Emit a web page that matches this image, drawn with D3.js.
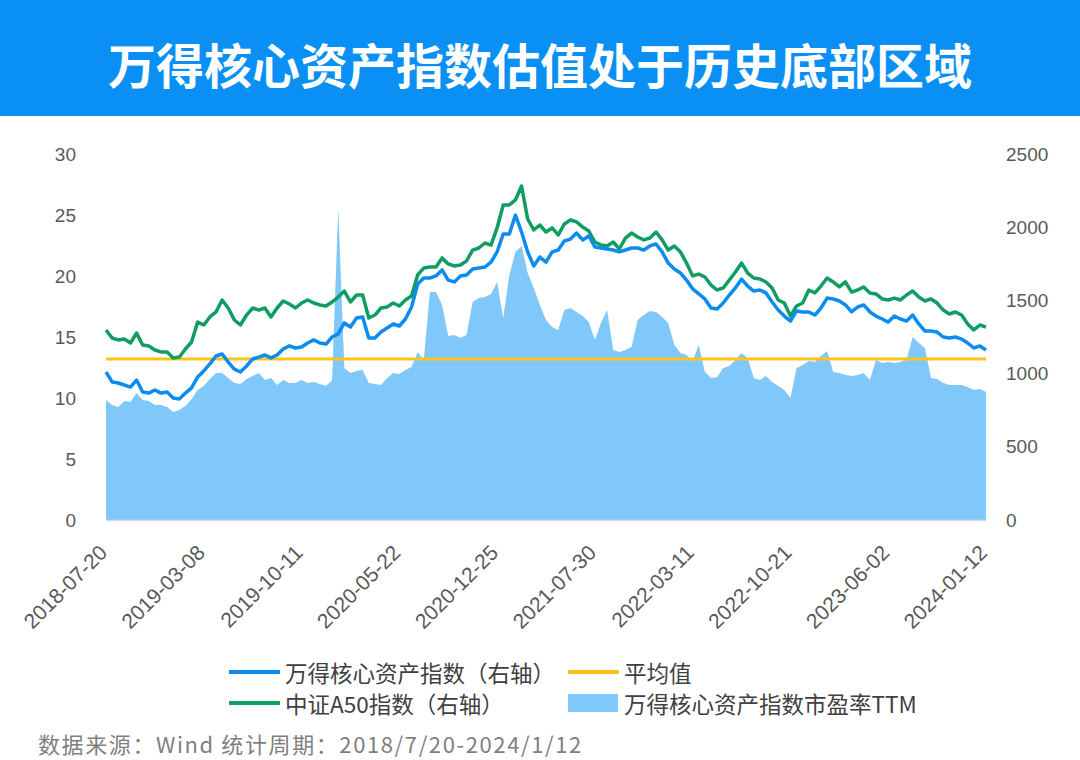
<!DOCTYPE html>
<html><head><meta charset="utf-8">
<script src="https://cdn.jsdelivr.net/npm/d3@7"></script>
<style>
html,body{margin:0;padding:0;background:#fff;}
svg{display:block;font-family:"Noto Sans CJK SC","Noto Sans",sans-serif;}
</style></head>
<body><svg id="chart" width="1080" height="760"></svg>
<script>
const titleText = "万得核心资产指数估值处于历史底部区域";
const tickLabels = ["2018-07-20","2019-03-08","2019-10-11","2020-05-22","2020-12-25","2021-07-30","2022-03-11","2022-10-21","2023-06-02","2024-01-12"];
const leftTicks = [0,5,10,15,20,25,30];
const rightTicks = [0,500,1000,1500,2000,2500];
const seriesNames = ["万得核心资产指数（右轴）","平均值","中证A50指数（右轴）","万得核心资产指数市盈率TTM"];
const footnote = "数据来源：Wind 统计周期：2018/7/20-2024/1/12";

// 中证A50指数 (right axis)
const a50 = [1298,1243,1230,1236,1209,1277,1195,1189,1161,1148,
1148,1107,1113,1168,1216,1352,1332,1387,1421,1503,
1448,1366,1332,1400,1448,1434,1448,1387,1448,1496,
1475,1448,1482,1503,1482,1469,1462,1489,1523,1564,
1489,1537,1537,1380,1400,1448,1455,1482,1462,1503,
1530,1674,1721,1728,1728,1790,1749,1735,1742,1769,
1844,1858,1892,1878,1995,2152,2152,2186,2281,2056,
1981,2015,1967,1995,1947,2022,2049,2036,2001,1974,
1899,1878,1872,1899,1851,1926,1960,1933,1913,1926,
1967,1913,1844,1872,1831,1755,1667,1680,1660,1605,
1571,1585,1639,1694,1755,1687,1653,1646,1626,1585,
1503,1482,1393,1462,1482,1571,1551,1598,1653,1626,
1592,1626,1557,1571,1592,1551,1544,1510,1503,1516,
1503,1537,1564,1523,1496,1510,1482,1434,1407,1421,
1400,1339,1298,1332,1318];

// 万得核心资产指数 (right axis)
const coreIdx = [1011,943,936,922,908,956,874,867,888,867,
874,833,827,867,902,977,1018,1066,1120,1134,
1079,1031,1011,1052,1100,1113,1127,1107,1127,1168,
1189,1175,1182,1209,1230,1209,1202,1250,1271,1346,
1318,1380,1387,1243,1243,1284,1311,1339,1325,1373,
1455,1612,1653,1653,1667,1708,1639,1626,1667,1674,
1714,1721,1728,1762,1831,1954,1954,2083,1967,1831,
1735,1796,1762,1831,1844,1906,1919,1960,1913,1940,
1865,1858,1851,1844,1831,1844,1858,1858,1844,1872,
1885,1831,1755,1714,1687,1639,1578,1544,1510,1448,
1441,1482,1537,1585,1646,1598,1564,1571,1551,1489,
1434,1393,1359,1428,1421,1421,1400,1448,1516,1510,
1496,1469,1421,1455,1469,1421,1393,1373,1352,1393,
1373,1359,1400,1339,1291,1291,1284,1250,1243,1250,
1236,1209,1175,1189,1161];

// 万得核心资产指数市盈率TTM (left axis)
const peTTM = [9.84,9.43,9.26,9.75,9.67,10.41,9.84,9.75,9.43,9.43,
9.26,8.85,9.02,9.34,9.92,10.66,10.98,11.56,12.05,12.05,
11.64,11.23,11.15,11.56,11.80,12.05,11.48,11.64,11.07,11.48,
11.23,11.23,11.48,11.23,11.31,11.15,10.98,11.48,25.57,12.46,
12.05,12.21,12.30,11.23,11.15,11.07,11.64,12.05,11.97,12.30,
12.54,13.77,13.11,18.69,18.69,17.62,15.08,15.16,14.92,15.16,
17.87,18.20,18.28,18.52,19.51,16.56,20.08,21.97,22.46,20.25,
19.02,17.62,16.39,15.82,15.57,17.21,17.38,17.05,16.72,16.23,
14.75,16.15,17.21,13.93,13.77,13.93,14.18,16.39,16.80,17.13,
17.05,16.64,16.15,14.34,13.69,13.52,13.03,14.34,12.13,11.64,
11.72,12.46,12.62,13.11,13.69,13.28,11.64,11.48,11.80,11.31,
10.98,10.66,10.00,12.46,12.70,13.03,12.95,13.44,13.85,12.13,
12.05,11.89,11.80,11.89,12.05,11.48,13.11,12.87,12.95,12.87,
12.95,13.11,15.00,14.51,14.10,11.64,11.56,11.23,11.07,11.07,
11.07,10.90,10.66,10.74,10.49];

const peAverage = 13.2;

const C = {title:"#0a90f5", blue:"#0c8cf0", green:"#0f9d62", orange:"#ffc21a", area:"#80c7fa", text:"#595959", legend:"#404040", foot:"#7f7f7f"};

const svg = d3.select("#chart");
const N = peTTM.length;
const step = (N - 1) / (tickLabels.length - 1);
const x = d3.scaleLinear().domain([0, N - 1]).range([106, 986]);
const yL = d3.scaleLinear().domain([0, 30]).range([520, 154]);
const yR = d3.scaleLinear().domain([0, 2500]).range([520, 154]);

// title bar
svg.append("rect").attr("x",0).attr("y",0).attr("width",1080).attr("height",116).attr("fill",C.title);
svg.append("text").attr("x",540).attr("y",63).attr("text-anchor","middle").attr("dominant-baseline","central")
  .attr("fill","#fff").attr("font-size",48).attr("font-weight",700).text(titleText);

// area
const area = d3.area().x((d,i)=>x(i)).y0(yL(0)).y1(d=>yL(d));
svg.append("path").datum(peTTM).attr("d",area).attr("fill",C.area);

// average line
svg.append("line").attr("x1",x(0)).attr("x2",x(N-1)).attr("y1",yL(peAverage)).attr("y2",yL(peAverage))
  .attr("stroke",C.orange).attr("stroke-width",3);

// bottom axis
const xAxis = d3.axisBottom(x).tickValues(tickLabels.map((d,i)=>i*step)).tickSize(0).tickFormat((d,i)=>tickLabels[i]);
const gx = svg.append("g").attr("transform",`translate(0,${yL(0)})`).call(xAxis);
gx.select(".domain").attr("stroke","#d9d9d9").attr("stroke-width",1.5);
gx.selectAll("text").attr("font-size",21).attr("fill",C.text).attr("text-anchor","end")
  .attr("dy",null).attr("y",null)
  .attr("transform","translate(2,34) rotate(-45)");

// left axis
const gl = svg.append("g").attr("transform","translate(76,0)").call(d3.axisLeft(yL).tickValues(leftTicks).tickSize(0).tickPadding(0));
gl.select(".domain").remove();
gl.selectAll("text").attr("font-size",19).attr("fill",C.text);

// right axis
const gr = svg.append("g").attr("transform","translate(1006,0)")
  .call(d3.axisRight(yR).tickValues(rightTicks).tickSize(0).tickPadding(0).tickFormat(d3.format("d")));
gr.select(".domain").remove();
gr.selectAll("text").attr("font-size",19).attr("fill",C.text);

// lines
const lineR = d3.line().x((d,i)=>x(i)).y(d=>yR(d));
svg.append("path").datum(a50).attr("d",lineR).attr("fill","none").attr("stroke",C.green)
  .attr("stroke-width",3.5).attr("stroke-linejoin","round");
svg.append("path").datum(coreIdx).attr("d",lineR).attr("fill","none").attr("stroke",C.blue)
  .attr("stroke-width",3.5).attr("stroke-linejoin","round");

// legend
const leg = [
  {name:seriesNames[0], type:"line", color:C.blue, x:229, y:672},
  {name:seriesNames[1], type:"line", color:C.orange, x:568, y:672},
  {name:seriesNames[2], type:"line", color:C.green, x:229, y:703},
  {name:seriesNames[3], type:"rect", color:C.area, x:568, y:703}
];
const lg = svg.append("g");
leg.forEach(d=>{
  if(d.type==="line"){
    lg.append("line").attr("x1",d.x).attr("x2",d.x+51).attr("y1",d.y).attr("y2",d.y).attr("stroke",d.color).attr("stroke-width",4);
  } else {
    lg.append("rect").attr("x",d.x).attr("y",d.y-9).attr("width",50).attr("height",18).attr("fill",d.color);
  }
  lg.append("text").attr("x",d.x+56).attr("y",d.y).attr("dominant-baseline","central")
    .attr("font-size",22.5).attr("fill",C.legend).text(d.name);
});

// footnote
svg.append("text").attr("x",38).attr("y",743).attr("dominant-baseline","central")
  .attr("font-size",22).attr("letter-spacing",1.6).attr("fill",C.foot).text(footnote);
</script></body></html>
